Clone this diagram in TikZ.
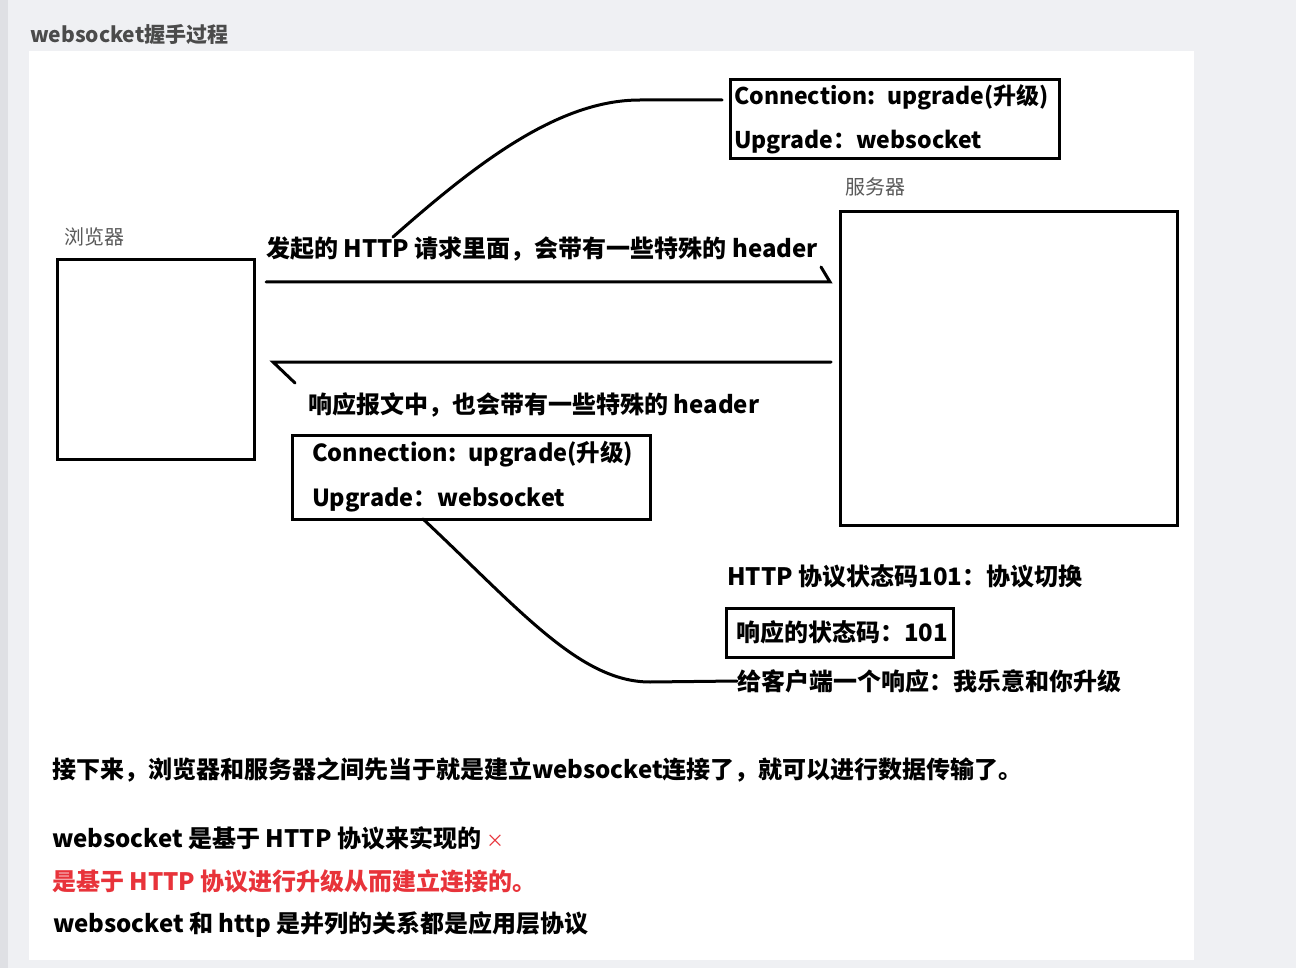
\documentclass[tikz,border=0pt]{standalone}
\usepackage{fontspec}
\setmainfont{Noto Sans CJK SC}
\definecolor{pagebg}{HTML}{EFF0F3}
\definecolor{stripe}{HTML}{DFE0E4}
\definecolor{titlegray}{HTML}{4B4B4B}
\definecolor{labelgray}{HTML}{5A5A5A}
\definecolor{wrongred}{HTML}{E8333A}
\tikzset{
  box/.style={draw, line width=3pt, align=left},
  wire/.style={line width=3pt, line cap=round},
  bigtext/.style={anchor=west, inner sep=0pt, font=\bfseries\fontsize{24pt}{28pt}\selectfont},
  sidelabel/.style={anchor=west, inner sep=0pt, text=labelgray, font=\fontsize{20pt}{24pt}\selectfont},
}
\begin{document}
\begin{tikzpicture}[x=1pt, y=-1pt]
    % Page
    \fill[pagebg] (0,0) rectangle (1296,968);
    \fill[stripe] (0,0) rectangle (8,968);
    \fill[white] (29,51) rectangle (1194,960);
    \useasboundingbox (0,0) rectangle (1296,968);
    \node[anchor=west, inner sep=0pt, text=titlegray, font=\bfseries\fontsize{21pt}{24pt}\selectfont] (title) at (30,35) {websocket握手过程};

    % Browser and server
    \node[sidelabel] (browserlabel) at (64,237) {浏览器};
    \node[box, minimum width=197pt, minimum height=199pt] (browser) at (155.5,359.5) {};
    \node[sidelabel] (serverlabel) at (845,187) {服务器};
    \node[box, minimum width=337pt, minimum height=313pt] (server) at (1008.5,368.5) {};

    % Request
    \node[bigtext] (reqtext) at (266,249) {发起的 HTTP 请求里面，会带有一些特殊的 header};
    \coordinate (reqtail) at (266,282);
    \coordinate (reqhead) at (830,282);
    \draw[wire] (reqtail) -- (reqhead) -- ++(-9,-15);

    % Request headers
    \node[box, text width=321pt, inner xsep=4pt, minimum height=79pt, font=\bfseries\fontsize{23pt}{44pt}\selectfont] (hdrup) at (894.5,119.5) {\mbox{Connection: upgrade(升级)}\\\mbox{Upgrade：websocket}};
    \coordinate (reqhook) at (393,237);
    \coordinate (hdrtap) at (722,100);
    \draw[wire] (reqhook) .. controls (480,160) and (560,100) .. (640,100) -- (hdrtap);

    % Response
    \coordinate (resptail) at (831,362);
    \coordinate (resphead) at (273,362);
    \draw[wire] (resptail) -- (resphead) -- ++(22,21);
    \node[bigtext] (resptext) at (308,405) {响应报文中，也会带有一些特殊的 header};

    % Response headers
    \node[box, text width=318pt, inner xsep=20pt, minimum height=84pt, font=\bfseries\fontsize{23.5pt}{45pt}\selectfont] (hdrdown) at (471,477) {\mbox{Connection: upgrade(升级)}\\\mbox{Upgrade：websocket}};
    \coordinate (dnfoot) at (423,519);

    % Status code
    \node[bigtext] (codetext) at (727,576) {HTTP 协议状态码101：协议切换};
    \node[box, text width=207pt, inner xsep=10pt, minimum height=49pt, font=\bfseries\fontsize{24pt}{28pt}\selectfont] (codebox) at (839.5,632.5) {\mbox{响应的状态码：101}};
    \node[bigtext] (replytext) at (737,681) {给客户端一个响应：我乐意和你升级};
    \draw[wire] (dnfoot) .. controls (520,610) and (580,682) .. (650,682) -- (replytext.west);

    % Notes
    \node[bigtext] (note1) at (52,770) {接下来，浏览器和服务器之间先当于就是建立websocket连接了，就可以进行数据传输了。};
    \node[bigtext] (note2) at (52,838) {websocket 是基于 HTTP 协议来实现的 {\mdseries\fontsize{18pt}{20pt}\selectfont\color{wrongred}×}};
    \node[bigtext, text=wrongred] (note3) at (52,881) {是基于 HTTP 协议进行升级从而建立连接的。};
    \node[bigtext] (note4) at (53,925) {websocket 和 http 是并列的关系都是应用层协议};
\end{tikzpicture}
\end{document}
